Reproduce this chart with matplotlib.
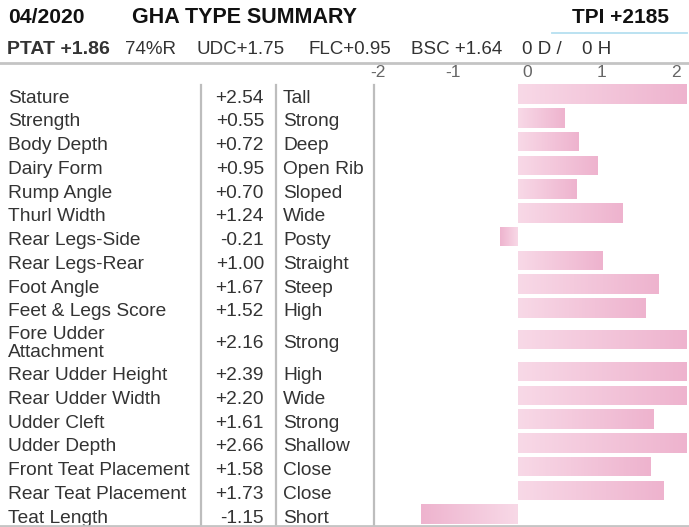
import numpy as np
import matplotlib
matplotlib.use('Agg')
import matplotlib.pyplot as plt
from matplotlib.colors import LinearSegmentedColormap
from matplotlib.lines import Line2D
from matplotlib.transforms import blended_transform_factory

plt.rcParams['font.family'] = ['Liberation Sans', 'DejaVu Sans']

# header data
date_label = '04/2020'
title = 'GHA TYPE SUMMARY'
tpi_label = 'TPI +2185'
ptat_label = 'PTAT +1.86'
summary_items = ['74%R', 'UDC+1.75', 'FLC+0.95', 'BSC +1.64', '0 D /', '0 H']

# trait data
traits = ['Stature', 'Strength', 'Body Depth', 'Dairy Form', 'Rump Angle',
          'Thurl Width', 'Rear Legs-Side', 'Rear Legs-Rear', 'Foot Angle',
          'Feet & Legs Score', 'Fore Udder\nAttachment', 'Rear Udder Height',
          'Rear Udder Width', 'Udder Cleft', 'Udder Depth',
          'Front Teat Placement', 'Rear Teat Placement', 'Teat Length']
values = [2.54, 0.55, 0.72, 0.95, 0.70, 1.24, -0.21, 1.00, 1.67, 1.52,
          2.16, 2.39, 2.20, 1.61, 2.66, 1.58, 1.73, -1.15]
descriptors = ['Tall', 'Strong', 'Deep', 'Open Rib', 'Sloped', 'Wide', 'Posty',
               'Straight', 'Steep', 'High', 'Strong', 'High', 'Wide', 'Strong',
               'Shallow', 'Close', 'Close', 'Short']
ticks = [-2, -1, 0, 1, 2]

W, H = 689, 527
def fx(px):
    return px / W
def fy(py):
    return 1 - py / H

fig = plt.figure(figsize=(W / 100, H / 100), dpi=100)
fig.patch.set_facecolor('white')

# row layout (pixel-like units, two-line rows are taller)
row_h = np.array([40.0 if '\n' in t else 23.75 for t in traits])
centers = np.cumsum(row_h) - row_h / 2
total = row_h.sum()
top_px = 526 - total

ax = fig.add_axes([fx(374), fy(526), fx(686) - fx(374), fy(top_px) - fy(526)])
xmin, xmax = -1.714, 2.0

cmap = LinearSegmentedColormap.from_list('pinkgrad', ['#f8d9e7', '#eeb3ce'])
grad = np.linspace(0, 1, 256).reshape(1, -1)
bh = 19.5
bars = ax.barh(centers, values, height=bh, color='none', edgecolor='none')
for rect, v, y in zip(bars, values, centers):
    vc = np.clip(v, xmin, xmax)
    im = ax.imshow(grad, cmap=cmap, extent=(0, vc, y + bh / 2, y - bh / 2),
                   aspect='auto', interpolation='bilinear', zorder=2)
    im.set_clip_path(rect)

ax.set_xlim(xmin, xmax)
ax.set_ylim(total, 0)
ax.set_xticks([])
ax.set_yticks([])
for s in ['top', 'right', 'bottom']:
    ax.spines[s].set_visible(False)
ax.spines['left'].set_color('#bdbdbd')
ax.spines['left'].set_linewidth(1.6)
ax.spines['left'].set_bounds(85 - top_px, total)

ax2 = ax.twiny()
ax2.set_xlim(-2.058, 2.141)
ax2.set_xticks(ticks)
ax2.set_xticklabels([str(t) for t in ticks])
ax2.tick_params(axis='x', length=0, pad=1.5, labelsize=12.5, colors='#666666')
for s in ax2.spines.values():
    s.set_visible(False)

# table columns
tr = blended_transform_factory(fig.transFigure, ax.transData)
txt = '#333333'
for name, v, d, y in zip(traits, values, descriptors, centers):
    if '\n' in name:
        # baseline anchor is the last line for multi-line text
        ax.text(fx(8), y + 17, name, transform=tr, ha='left', va='baseline',
                fontsize=13.8, color=txt, linespacing=1.05, clip_on=False)
    else:
        ax.text(fx(8), y + 8.5, name, transform=tr, ha='left', va='baseline',
                fontsize=13.8, color=txt, clip_on=False)
    ax.text(fx(264), y + 8.5, f'{v:+.2f}', transform=tr, ha='right',
            va='baseline', fontsize=13.8, color=txt, clip_on=False)
    ax.text(fx(283), y + 8.5, d, transform=tr, ha='left', va='baseline',
            fontsize=13.8, color=txt, clip_on=False)

for x in [201, 276]:
    fig.add_artist(Line2D([fx(x), fx(x)], [fy(85), fy(526)], color='#bdbdbd', lw=1.6))

# header
fig.text(fx(8), fy(17.5), date_label, fontsize=15.2, fontweight='bold',
         color='#111111', ha='left', va='center')
fig.text(fx(132), fy(17.5), title, fontsize=15.5, fontweight='bold',
         color='#111111', ha='left', va='center')
fig.text(fx(669), fy(17.5), tpi_label, fontsize=15, fontweight='bold',
         color='#111111', ha='right', va='center')
fig.add_artist(Line2D([fx(552), fx(687)], [fy(32.5), fy(32.5)], color='#b5dff0', lw=1.3))

fig.text(fx(7), fy(49), ptat_label, fontsize=14, fontweight='bold',
         color='#333333', ha='left', va='center')
item_x = [125, 197, 309, 411, 522, 582]
for s, x in zip(summary_items, item_x):
    fig.text(fx(x), fy(49), s, fontsize=13.5, color='#333333',
             ha='left', va='center')

for y in [63, 526]:
    fig.add_artist(Line2D([0, 1], [fy(y), fy(y)], color='#c4c4c4', lw=2))

fig.savefig('out.png', dpi=100)
